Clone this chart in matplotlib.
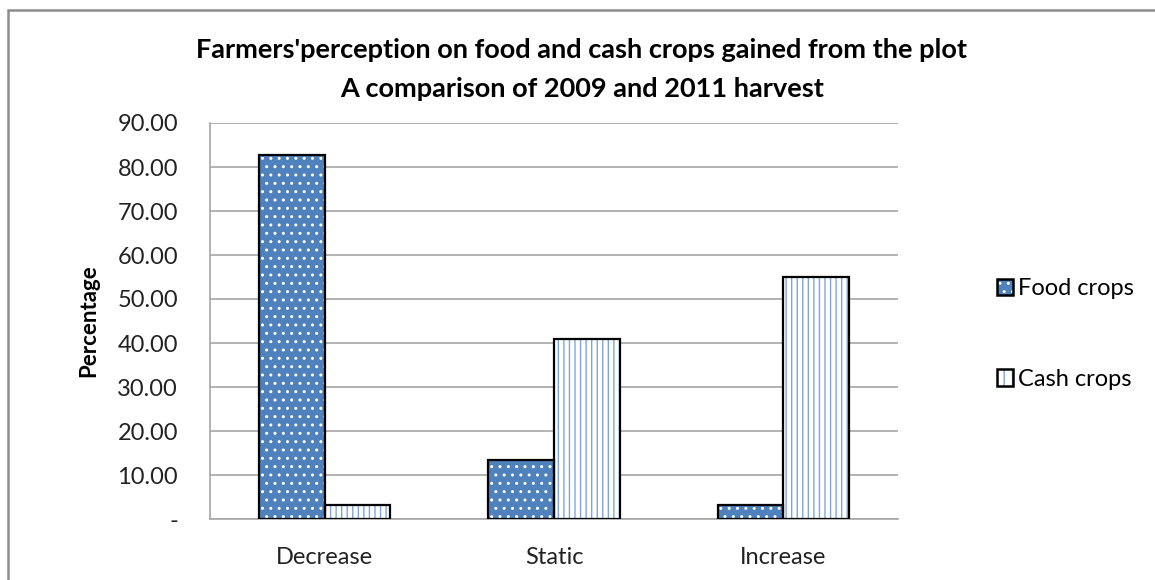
import matplotlib
matplotlib.use("Agg")
from matplotlib import pyplot as plt
from matplotlib.patches import Patch, Rectangle
from matplotlib.legend_handler import HandlerTuple
import numpy as np

categories = ["Decrease", "Static", "Increase"]
food_crops = [82.8, 13.4, 3.2]
cash_crops = [3.1, 41.0, 55.1]
yticks = [0, 10, 20, 30, 40, 50, 60, 70, 80, 90]
ytick_labels = ["-", "10.00", "20.00", "30.00", "40.00", "50.00", "60.00", "70.00", "80.00", "90.00"]

plt.rcParams['font.family'] = ['Lato', 'DejaVu Sans']
plt.rcParams['hatch.linewidth'] = 1.0

blue = '#4F81BD'
light = '#7EA6DA'

fig = plt.figure(figsize=(11.55, 5.8), dpi=100)
ax = fig.add_axes([210/1155, 1-519/580, 688/1155, 396/580])

x = np.arange(len(categories))
w = 0.286
# food crops: blue with white dots
ax.bar(x - w/2, food_crops, w, color=blue, edgecolor='white', hatch='..', linewidth=0, zorder=3)
ax.bar(x - w/2, food_crops, w, fill=False, edgecolor='black', linewidth=1.6, zorder=4)
# cash crops: white with blue vertical lines
ax.bar(x + w/2, cash_crops, w, color='white', edgecolor=light, hatch='|||', linewidth=0, zorder=3)
ax.bar(x + w/2, cash_crops, w, fill=False, edgecolor='black', linewidth=1.6, zorder=4)

ax.set_xlim(-0.5, 2.5)
ax.set_ylim(0, 90)
ax.set_yticks(yticks)
ax.set_yticklabels(ytick_labels)
ax.set_xticks(x)
ax.set_xticklabels(categories)
ax.tick_params(length=0, labelsize=17, colors='#222222')
ax.tick_params(axis='y', pad=23)
ax.tick_params(axis='x', pad=20)
ax.yaxis.grid(True, color='#A6A6A6', linewidth=1.2, zorder=0)
ax.set_axisbelow(True)
for s in ['top', 'right']:
    ax.spines[s].set_visible(False)
ax.spines['left'].set_color('#A6A6A6')
ax.spines['bottom'].set_color('#A6A6A6')
ax.spines['left'].set_linewidth(1.2)
ax.spines['bottom'].set_linewidth(1.2)

ax.set_ylabel("Percentage", fontsize=16, fontweight='bold', labelpad=13)

fig.text(582/1155, 1-58/580, "Farmers'perception on food and cash crops gained from the plot",
         ha='center', va='baseline', fontsize=19.5, fontweight='bold')
fig.text(582/1155, 1-97/580, "A comparison of 2009 and 2011 harvest",
         ha='center', va='baseline', fontsize=19.5, fontweight='bold')

# legend
h_food = (Patch(facecolor=blue, edgecolor='white', hatch='..', linewidth=0),
          Patch(fill=False, edgecolor='black', linewidth=1.8))
h_cash = (Patch(facecolor='white', edgecolor=light, hatch='||', linewidth=0),
          Patch(fill=False, edgecolor='black', linewidth=1.8))
fig.legend([h_food, h_cash], ["Food crops", "Cash crops"], handler_map={tuple: HandlerTuple(ndivide=1)},
           loc='center left', bbox_to_anchor=(976/1155, 1-334/580), frameon=False, fontsize=17,
           handlelength=0.68, handleheight=0.68, handletextpad=0.22, labelspacing=2.95)

# outer chart frame
fig.patches.append(Rectangle((8/1155, -0.1), 1.2, 1-10/580+0.1, transform=fig.transFigure,
                             fill=False, edgecolor='#8C8C8C', linewidth=1.8))

fig.savefig("out.png", dpi=100)
